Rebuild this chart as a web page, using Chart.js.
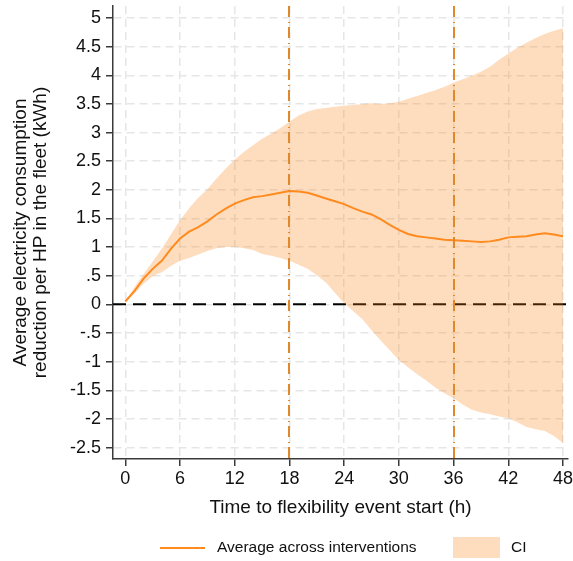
<!DOCTYPE html>
<html>
<head>
<meta charset="utf-8">
<script src="https://cdn.jsdelivr.net/npm/chart.js@4.4.1/dist/chart.umd.min.js"></script>
<style>
html, body { margin: 0; padding: 0; background: #fff; }
#wrap { width: 573px; height: 561px; }
</style>
</head>
<body>
<div id="wrap"><canvas id="chart" width="573" height="561"></canvas></div>
<script>
const hours = [0, 1, 2, 3, 4, 5, 6, 7, 8, 9, 10, 11, 12, 13, 14, 15, 16, 17, 18, 19, 20, 21, 22, 23, 24,
    25, 26, 27, 28, 29, 30, 31, 32, 33, 34, 35, 36, 37, 38, 39, 40, 41, 42, 43, 44, 45, 46, 47, 48];
const meanValues = [0.05, 0.23, 0.45, 0.62, 0.76, 0.97, 1.15, 1.27, 1.35, 1.45, 1.57, 1.67, 1.76, 1.82, 1.87, 1.89, 1.92,
    1.95, 1.98, 1.97, 1.95, 1.90, 1.85, 1.80, 1.75, 1.68, 1.62, 1.57, 1.49, 1.39, 1.30, 1.23, 1.19, 1.17, 1.15, 1.13,
    1.12, 1.11, 1.10, 1.09, 1.10, 1.13, 1.17, 1.18, 1.19, 1.22, 1.24, 1.22, 1.19];
const upperValues = [0.05, 0.30, 0.53, 0.75, 0.97, 1.22, 1.47, 1.68, 1.86, 2.01, 2.20, 2.37, 2.53, 2.66, 2.78, 2.89, 2.98,
    3.08, 3.19, 3.30, 3.37, 3.41, 3.43, 3.45, 3.47, 3.48, 3.50, 3.51, 3.50, 3.51, 3.54, 3.59, 3.64, 3.69, 3.74, 3.80,
    3.87, 3.93, 3.99, 4.06, 4.15, 4.27, 4.38, 4.48, 4.57, 4.65, 4.72, 4.78, 4.82];
const lowerValues = [0.05, 0.19, 0.36, 0.49, 0.56, 0.67, 0.76, 0.81, 0.87, 0.93, 0.98, 1.00, 1.00, 0.98, 0.95, 0.88, 0.85,
    0.81, 0.76, 0.69, 0.62, 0.51, 0.38, 0.20, 0.02, -0.12, -0.26, -0.45, -0.63, -0.80, -0.97, -1.10, -1.22, -1.33, -1.45, -1.55,
    -1.64, -1.75, -1.84, -1.89, -1.92, -1.96, -1.99, -2.06, -2.14, -2.18, -2.21, -2.30, -2.42];
const xTicks = [0, 6, 12, 18, 24, 30, 36, 42, 48];
const yTicks = [-2.5, -2, -1.5, -1, -0.5, 0, 0.5, 1, 1.5, 2, 2.5, 3, 3.5, 4, 4.5, 5];
const eventLines = [18, 36];
const baseline = 0;
const seriesLabels = ["Average across interventions", "CI"];
const xTitle = "Time to flexibility event start (h)";
const yTitle = ["Average electricity consumption", "reduction per HP in the fleet (kWh)"];

const FONT = "'Liberation Sans', Arial, sans-serif";
const lineColor = "#ff8a1e";
const bandColor = "rgba(250, 128, 20, 0.27)";
const eventColor = "#e0892c";
const axisColor = "#3a3a3a";
const gridColor = "#e6e6e6";

Chart.defaults.font.family = FONT;
Chart.defaults.color = "#111";

function toPoints(values) {
    return hours.map((h, i) => ({ x: h, y: values[i] }));
}

function stataLabel(v) {
    if (v === 0) {
        return "0";
    }
    return String(v).replace(/^(-?)0\./, "$1.");
}

const refLines = {
    id: "refLines",
    beforeDatasetsDraw(chart) {
        const { ctx, chartArea, scales } = chart;
        const y = scales.y.getPixelForValue(baseline);
        ctx.save();
        ctx.strokeStyle = "#000";
        ctx.lineWidth = 2;
        ctx.setLineDash([13, 7]);
        ctx.beginPath();
        ctx.moveTo(chartArea.left, y);
        ctx.lineTo(chartArea.right, y);
        ctx.stroke();
        ctx.restore();
    },
    afterDatasetsDraw(chart) {
        const { ctx, chartArea, scales } = chart;
        ctx.save();
        ctx.strokeStyle = eventColor;
        ctx.lineWidth = 2;
        ctx.setLineDash([11, 5, 1, 4]);
        eventLines.forEach(h => {
            const x = Math.round(scales.x.getPixelForValue(h));
            ctx.beginPath();
            ctx.moveTo(x, chartArea.top);
            ctx.lineTo(x, chartArea.bottom);
            ctx.stroke();
        });
        ctx.restore();
    }
};

const legendBox = {
    id: "legendBox",
    afterDraw(chart) {
        const ctx = chart.ctx;
        const y = 548;
        ctx.save();
        ctx.strokeStyle = lineColor;
        ctx.lineWidth = 2;
        ctx.beginPath();
        ctx.moveTo(160, y);
        ctx.lineTo(205, y);
        ctx.stroke();
        ctx.fillStyle = bandColor;
        ctx.fillRect(453, 537, 47, 21);
        ctx.fillStyle = "#111";
        ctx.font = "15.5px " + FONT;
        ctx.textBaseline = "middle";
        ctx.fillText(seriesLabels[0], 217, y);
        ctx.fillText(seriesLabels[1], 511, y);
        ctx.restore();
    }
};

new Chart(document.getElementById("chart"), {
    type: "line",
    data: {
        datasets: [{
            label: seriesLabels[0],
            data: toPoints(meanValues),
            borderColor: lineColor,
            borderWidth: 2,
            pointRadius: 0,
            fill: false,
            tension: 0
        }, {
            label: seriesLabels[1],
            data: toPoints(upperValues),
            borderWidth: 0,
            borderColor: "rgba(0,0,0,0)",
            backgroundColor: bandColor,
            pointRadius: 0,
            fill: "+1"
        }, {
            label: "CI lower",
            data: toPoints(lowerValues),
            borderWidth: 0,
            borderColor: "rgba(0,0,0,0)",
            pointRadius: 0,
            fill: false
        }]
    },
    options: {
        responsive: false,
        animation: false,
        layout: {
            padding: { left: 0, right: 5, top: 6, bottom: 42 }
        },
        plugins: {
            legend: { display: false },
            tooltip: { enabled: false }
        },
        scales: {
            x: {
                type: "linear",
                min: -1.35,
                max: 48.55,
                afterBuildTicks: scale => {
                    scale.ticks = xTicks.map(v => ({ value: v }));
                },
                afterFit: scale => {
                    scale.height = 60;
                    scale.paddingLeft = 0;
                    scale.paddingRight = 0;
                },
                ticks: {
                    font: { size: 18 },
                    color: "#111",
                    padding: 2,
                    maxRotation: 0,
                    autoSkip: false,
                    callback: v => String(v)
                },
                grid: {
                    color: gridColor,
                    lineWidth: 1.5,
                    tickColor: axisColor,
                    tickLength: 7,
                    tickWidth: 1.5
                },
                border: {
                    color: axisColor,
                    width: 1.5,
                    dash: [8, 5]
                },
                title: {
                    display: true,
                    text: xTitle,
                    font: { size: 19 },
                    color: "#111",
                    padding: { top: 0, bottom: 0 }
                }
            },
            y: {
                type: "linear",
                min: -2.70,
                max: 5.21,
                afterBuildTicks: scale => {
                    scale.ticks = yTicks.map(v => ({ value: v }));
                },
                afterFit: scale => {
                    scale.width = 113;
                    scale.paddingTop = 0;
                    scale.paddingBottom = 0;
                },
                ticks: {
                    font: { size: 18 },
                    color: "#111",
                    padding: 5,
                    autoSkip: false,
                    callback: v => stataLabel(v)
                },
                grid: {
                    color: gridColor,
                    lineWidth: 1.5,
                    tickColor: axisColor,
                    tickLength: 7,
                    tickWidth: 1.5
                },
                border: {
                    color: axisColor,
                    width: 1.5,
                    dash: [8, 5]
                },
                title: {
                    display: true,
                    text: yTitle,
                    font: { size: 19, lineHeight: 1.05 },
                    color: "#111",
                    padding: { top: 11, bottom: 0 }
                }
            }
        }
    },
    plugins: [refLines, legendBox]
});
</script>
</body>
</html>
